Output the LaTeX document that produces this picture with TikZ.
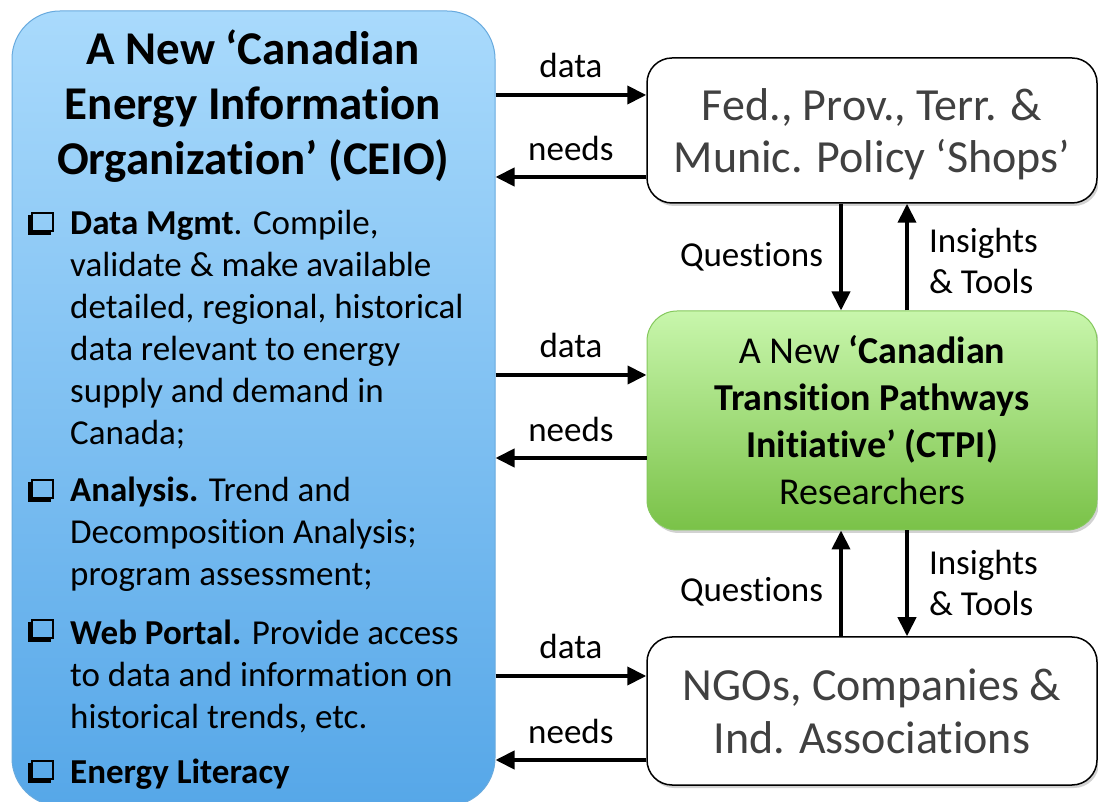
\documentclass[tikz,border=0pt]{standalone}
\usepackage{fontspec}
\setmainfont{Carlito}[Ligatures={TeX,NoCommon}]
\usetikzlibrary{arrows.meta,shadows}

\definecolor{ceiotop}{RGB}{169,218,252}
\definecolor{ceiobot}{RGB}{86,167,232}
\definecolor{ceioline}{RGB}{104,170,222}
\definecolor{ctpitop}{RGB}{200,246,172}
\definecolor{ctpibot}{RGB}{122,194,72}
\definecolor{ctpiline}{RGB}{132,200,92}
\definecolor{shopgray}{RGB}{64,64,64}

\tikzset{
  flow/.style={line width=4pt,-{Triangle[length=19pt,width=18pt]}},
  lbl/.style={inner sep=0pt,font=\fontsize{35}{41}\selectfont},
  whitebox/.style={draw,line width=1.5pt,fill=white,rounded corners=25pt,
    minimum width=450pt,inner sep=0pt,text=shopgray,align=center,
    font=\fontsize{46}{53}\selectfont,
    drop shadow={shadow xshift=2pt,shadow yshift=-3pt,opacity=0.35}},
  ctpibox/.style={draw=ctpiline,line width=1pt,top color=ctpitop,bottom color=ctpibot,
    rounded corners=30pt,minimum width=450pt,minimum height=219pt,inner sep=0pt,
    align=center,font=\fontsize{38}{47}\selectfont,
    drop shadow={shadow xshift=2pt,shadow yshift=-3pt,opacity=0.35}},
  ceiobox/.style={draw=ceioline,line width=1pt,top color=ceiotop,bottom color=ceiobot,
    rounded corners=48pt,minimum width=483pt,minimum height=795pt,inner sep=0pt},
  bullet/.style={inner sep=0pt,anchor=base west,align=left,font=\fontsize{35}{42}\selectfont},
}

\begin{document}
\begin{tikzpicture}[x=1pt,y=1pt]
  \useasboundingbox (0,0) rectangle (1098,801);
  \fill[white] (0,0) rectangle (1098,801);

  % left: CEIO
  \node[ceiobox] (ceio) at (253.5,392.5) {};
  \node[inner sep=0pt,anchor=base,align=center,font=\fontsize{47}{55}\selectfont\bfseries] (title)
    at (253,626) {A New ‘Canadian\\Energy Information\\Organization’ (CEIO)};

  % bullets (anchored at their last line)
  \node[bullet] (mgmt) at (70,356) {\textbf{Data Mgmt}. Compile,\\validate \& make available\\detailed, regional, historical\\data relevant to energy\\supply and demand in\\Canada;};
  \node[bullet] (analysis) at (70,215) {\textbf{Analysis.} Trend and\\Decomposition Analysis;\\program assessment;};
  \node[bullet] (portal) at (70,73) {\textbf{Web Portal.} Provide access\\to data and information on\\historical trends, etc.};
  \node[bullet] (literacy) at (70,18) {\textbf{Energy Literacy}};

  \foreach \b in {566,299,159,18} {
    \begin{scope}[shift={(28,\b)}]
      \fill (0,0) rectangle (23,3.5);
      \fill (0,0) rectangle (3.5,20);
      \draw[line width=2.4pt] (4.2,4.2) rectangle (24.8,21.8);
    \end{scope}
  }

  % right column
  \node[whitebox,minimum height=145pt] (shops) at (872,670.5) {};
  \node[text=shopgray,align=center,inner sep=0pt,font=\fontsize{46}{52}\selectfont] (shopstext)
    at ([yshift=-4pt]shops.center) {Fed., Prov., Terr. \&\\Munic. Policy ‘Shops’};
  \node[ctpibox] (ctpi) at (872,380.5) {A New \textbf{‘Canadian}\\\textbf{Transition Pathways}\\\textbf{Initiative’ (CTPI)}\\Researchers};
  \node[whitebox,minimum height=148pt] (ngo) at (872,90) {NGOs, Companies \&\\Ind. Associations};

  % data / needs
  \draw[flow] (ceio.east |- 0,706) -- node[lbl,above=15pt] {data} (shops.west |- 0,706);
  \draw[flow] (shops.west |- 0,624) -- node[lbl,above=14pt] {needs} (ceio.east |- 0,624);
  \draw[flow] (ceio.east |- 0,426) -- node[lbl,above=15pt] {data} (ctpi.west |- 0,426);
  \draw[flow] (ctpi.west |- 0,343) -- node[lbl,above=14pt] {needs} (ceio.east |- 0,343);
  \draw[flow] (ceio.east |- 0,125) -- node[lbl,above=15pt] {data} (ngo.west |- 0,125);
  \draw[flow] (ngo.west |- 0,41) -- node[lbl,above=14pt] {needs} (ceio.east |- 0,41);

  % questions / insights
  \draw[flow] (shops.south -| 841,0) -- node[lbl,left=16pt] {Questions} (ctpi.north -| 841,0);
  \draw[flow] (ctpi.north -| 907,0) -- node[lbl,right=20pt,align=left,yshift=-4pt] {Insights\\\& Tools} (shops.south -| 907,0);
  \draw[flow] (ngo.north -| 841,0) -- node[lbl,left=16pt,yshift=-8pt] {Questions} (ctpi.south -| 841,0);
  \draw[flow] (ctpi.south -| 907,0) -- node[lbl,right=20pt,align=left] {Insights\\\& Tools} (ngo.north -| 907,0);
\end{tikzpicture}
\end{document}
